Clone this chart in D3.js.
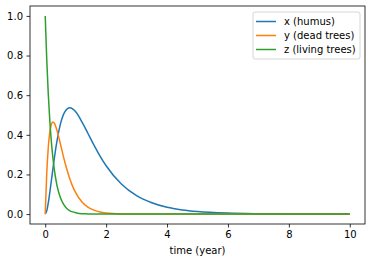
<!DOCTYPE html>
<html>
<head>
<meta charset="utf-8">
<script src="https://cdn.jsdelivr.net/npm/d3@7"></script>
<style>
  body { margin: 0; background: #fff; }
  text { font-family: "DejaVu Sans", sans-serif; }
</style>
</head>
<body>
<div id="chart"></div>
<script>
const width = 372
const height = 262
const margin = { left: 30, right: 7, top: 6, bottom: 38 }

// values
const time = [0, 0.05, 0.1, 0.15, 0.2, 0.25, 0.3, 0.35, 0.4, 0.5, 0.6, 0.7, 0.8, 0.9, 1.0,
    1.2, 1.4, 1.6, 1.8, 2.0, 2.5, 3, 3.5, 4, 4.5, 5, 6, 7, 8, 9, 10]
const humus = [0, 0.016, 0.056, 0.109, 0.167, 0.226, 0.283, 0.335, 0.381, 0.455, 0.503, 0.528, 0.537, 0.531, 0.516,
    0.467, 0.408, 0.348, 0.293, 0.244, 0.152, 0.093, 0.057, 0.034, 0.021, 0.013, 0.005, 0.002, 0.001, 0.0002, 0.0001]
const deadTrees = [0, 0.205, 0.336, 0.413, 0.452, 0.465, 0.459, 0.440, 0.415, 0.353, 0.289, 0.231, 0.181, 0.140, 0.108,
    0.062, 0.035, 0.020, 0.011, 0.006, 0.001, 0, 0, 0, 0, 0, 0, 0, 0, 0, 0]
const livingTrees = [1, 0.779, 0.607, 0.472, 0.368, 0.287, 0.223, 0.174, 0.135, 0.082, 0.050, 0.030, 0.018, 0.011, 0.007,
    0.002, 0.001, 0, 0, 0, 0, 0, 0, 0, 0, 0, 0, 0, 0, 0, 0]

const seriesNames = ["x (humus)", "y (dead trees)", "z (living trees)"]
const seriesColors = ["#1f77b4", "#ff7f0e", "#2ca02c"]
const xTicks = [0, 2, 4, 6, 8, 10]
const yTicks = [0, 0.2, 0.4, 0.6, 0.8, 1.0]

const series = [humus, deadTrees, livingTrees].map((vals, i) => ({
    name: seriesNames[i],
    color: seriesColors[i],
    points: time.map((t, j) => ({ t: t, v: vals[j] }))
}))

const svg = d3.select("#chart").append("svg").attr("width", width).attr("height", height)

const innerW = width - margin.left - margin.right
const innerH = height - margin.top - margin.bottom

const x = d3.scaleLinear().domain([-0.5, 10.5]).range([0, innerW])
const y = d3.scaleLinear().domain([-0.05, 1.05]).range([innerH, 0])

const g = svg.append("g").attr("transform", `translate(${margin.left}, ${margin.top})`)

const line = d3.line().x(d => x(d.t)).y(d => y(d.v)).curve(d3.curveMonotoneX)

g.selectAll("path.series")
    .data(series)
    .join("path")
    .attr("class", "series")
    .attr("d", d => line(d.points))
    .attr("fill", "none")
    .attr("stroke", d => d.color)
    .attr("stroke-width", 1.5)

// frame
g.append("rect")
    .attr("width", innerW).attr("height", innerH)
    .attr("fill", "none").attr("stroke", "#000").attr("stroke-width", 0.8)

const xAxis = g.append("g").attr("transform", `translate(0, ${innerH})`)
    .call(d3.axisBottom(x).tickValues(xTicks).tickFormat(d3.format("d")).tickSize(3.5).tickPadding(3.5))
const yAxis = g.append("g")
    .call(d3.axisLeft(y).tickValues(yTicks).tickFormat(d3.format(".1f")).tickSize(3.5).tickPadding(3.5))

;[xAxis, yAxis].forEach(a => {
    a.select(".domain").remove()
    a.selectAll("line").attr("stroke", "#000").attr("stroke-width", 0.8)
    a.selectAll("text").attr("font-size", 10).attr("fill", "#000").style("font-family", "DejaVu Sans, sans-serif")
})

svg.append("text")
    .text("time (year)")
    .attr("x", margin.left + innerW / 2)
    .attr("y", 254)
    .attr("text-anchor", "middle")
    .attr("font-size", 10)
    .attr("fill", "#000")

// legend
const legend = svg.append("g").attr("transform", "translate(253, 12)")
legend.append("rect")
    .attr("width", 107).attr("height", 47).attr("rx", 2)
    .attr("fill", "#fff").attr("fill-opacity", 0.8)
    .attr("stroke", "#ccc").attr("stroke-width", 0.8)
const items = legend.selectAll("g.item").data(series).join("g")
    .attr("class", "item")
    .attr("transform", (d, i) => `translate(0, ${9.5 + i * 14})`)
items.append("line")
    .attr("x1", 3).attr("x2", 23)
    .attr("stroke", d => d.color).attr("stroke-width", 1.5)
items.append("text")
    .text(d => d.name)
    .attr("x", 31).attr("y", 3.5)
    .attr("font-size", 10)
    .attr("fill", "#000")
</script>
</body>
</html>
